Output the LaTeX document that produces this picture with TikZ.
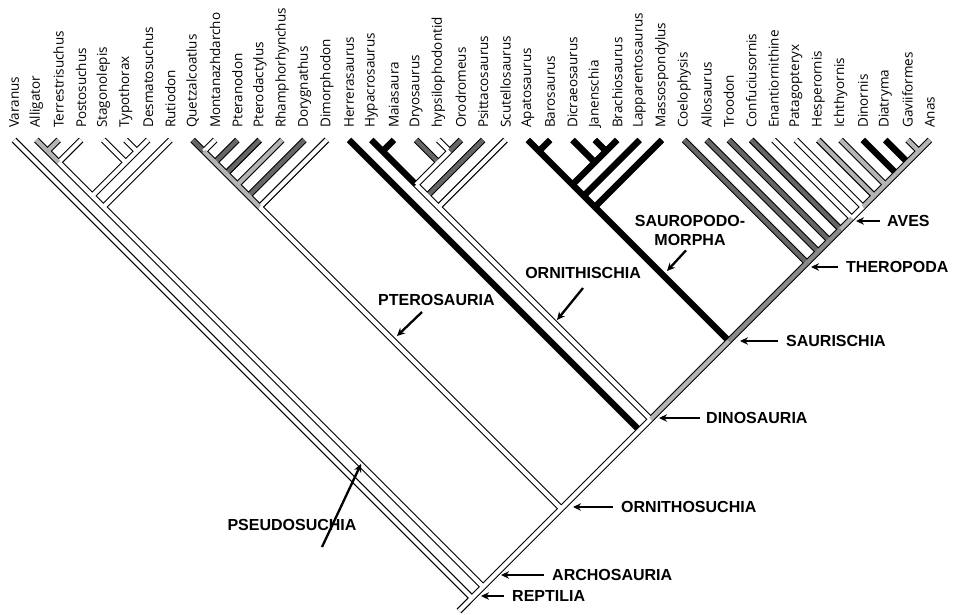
\documentclass[tikz,border=0pt]{standalone}
\usepackage{fontspec}
\setmainfont{Open Sans}
\newfontfamily\cladefont{Liberation Sans}
\usetikzlibrary{arrows.meta}
\definecolor{dg}{HTML}{666666}
\definecolor{mg}{HTML}{8A8A8A}
\definecolor{lg}{HTML}{B4B4B4}
\begin{document}
\begin{tikzpicture}[x=1pt,y=-1pt,
  outer/.style={line width=6.4pt, draw=black, line cap=butt},
  inner/.style={line width=4.2pt, draw=#1, line cap=butt},
  taxon/.style={rotate=90, anchor=west, inner sep=0pt, font=\fontsize{13.5}{15}\selectfont},
  clade/.style={inner sep=0pt, font=\cladefont\bfseries\fontsize{16}{19}\selectfont},
  pointer/.style={line width=2.3pt, -{Stealth[length=8pt,width=7.5pt]}}]
\useasboundingbox (0,0) rectangle (955,614);
\fill[white] (0,0) rectangle (955,614);

% ---- node coordinates of the cladogram
\foreach \i in {0,...,41} \coordinate (n\i-\i) at ({14+22.34*\i},140);
\foreach \a/\b in {0/41,1/41,1/2,1/3,1/6,1/7,4/6,5/6,8/41,8/9,8/10,8/11,8/12,8/13,8/14,
  15/41,16/41,16/17,16/20,18/20,19/20,16/21,16/22,23/41,23/24,23/27,25/27,26/27,23/28,23/29,
  30/41,31/41,32/41,33/41,34/41,35/41,36/41,37/41,38/41,39/41,40/41}
  \coordinate (n\a-\b) at ({14+11.17*(\a+\b)},{140+11.17*(\b-\a)});
\coordinate (nroot) at (459,611);

% ---- taxon labels
\foreach \i/\name in {0/Varanus,1/Alligator,2/Terrestrisuchus,3/Postosuchus,4/Stagonolepis,
  5/Typothorax,6/Desmatosuchus,7/Rutiodon,8/Quetzalcoatlus,9/Montanazhdarcho,10/Pteranodon,
  11/Pterodactylus,12/Rhamphorhynchus,13/Dorygnathus,14/Dimorphodon,15/Herrerasaurus,
  16/Hypacrosaurus,17/Maiasaura,18/Dryosaurus,19/hypsilophodontid,20/Orodromeus,
  21/Psittacosaurus,22/Scutellosaurus,23/Apatosaurus,24/Barosaurus,25/Dicraeosaurus,
  26/Janenschia,27/Brachiosaurus,28/Lapparentosaurus,29/Massospondylus,30/Coelophysis,
  31/Allosaurus,32/Troodon,33/Confuciusornis,34/Enantiornithine,35/Patagopteryx,
  36/Hesperornis,37/Ichthyornis,38/Dinornis,39/Diatryma,40/Gaviiformes,41/Anas}
  \node[taxon] (t\i) at ({14+22.34*\i},128) {\name};

% ---- branch lists
\newcommand\tipbranches{%
\br{white}{0-0}{0-41}\br{lg}{1-1}{1-2}\br{lg}{2-2}{1-2}\br{white}{3-3}{1-3}
\br{white}{4-4}{4-6}\br{white}{5-5}{5-6}\br{white}{6-6}{5-6}\br{white}{7-7}{1-7}
\br{dg}{8-8}{8-9}\br{white}{9-9}{8-9}\br{dg}{10-10}{8-10}\br{dg}{11-11}{8-11}
\br{lg}{12-12}{8-12}\br{dg}{13-13}{8-13}\br{white}{14-14}{8-14}
\br{black}{15-15}{15-41}\br{black}{16-16}{16-17}\br{black}{17-17}{16-17}
\br{dg}{18-18}{18-20}\br{white}{19-19}{19-20}\br{dg}{20-20}{19-20}
\br{dg}{21-21}{16-21}\br{white}{22-22}{16-22}
\br{black}{23-23}{23-24}\br{black}{24-24}{23-24}\br{black}{25-25}{25-27}
\br{black}{26-26}{26-27}\br{black}{27-27}{26-27}\br{black}{28-28}{23-28}\br{black}{29-29}{23-29}
\br{dg}{30-30}{30-41}\br{dg}{31-31}{31-41}\br{dg}{32-32}{32-41}\br{dg}{33-33}{33-41}
\br{white}{34-34}{34-41}\br{white}{35-35}{35-41}\br{lg}{36-36}{36-41}\br{lg}{37-37}{37-41}
\br{black}{38-38}{38-41}\br{black}{39-39}{39-41}\br{lg}{40-40}{40-41}\br{lg}{41-41}{40-41}}
\newcommand\innerbranches{%
\br{lg}{1-2}{1-3}\br{white}{1-3}{1-6}\br{white}{5-6}{4-6}\br{white}{4-6}{1-6}\br{white}{1-6}{1-7}
\br{lg}{8-9}{8-10}\br{lg}{8-10}{8-11}\br{lg}{8-11}{8-12}\br{lg}{8-12}{8-13}\br{lg}{8-13}{8-14}
\br{black}{16-17}{16-20}\br{white}{19-20}{18-20}\br{white}{18-20}{16-20}
\br{white}{16-20}{16-21}\br{white}{16-21}{16-22}
\br{black}{23-24}{23-27}\br{black}{26-27}{25-27}\br{black}{25-27}{23-27}
\br{black}{23-27}{23-28}\br{black}{23-28}{23-29}
\br{lg}{40-41}{39-41}\br{lg}{39-41}{38-41}\br{lg}{38-41}{37-41}\br{lg}{37-41}{36-41}
\br{lg}{36-41}{35-41}\br{white}{35-41}{34-41}\br{lg}{34-41}{33-41}
\br{mg}{33-41}{32-41}\br{mg}{32-41}{31-41}\br{mg}{31-41}{30-41}}
\newcommand\stembranches{%
\br{white}{1-7}{1-41}\br{white}{8-14}{8-41}\br{white}{16-22}{16-41}\br{black}{23-29}{23-41}
\br{mg}{30-41}{23-41}\br{lg}{23-41}{16-41}\br{white}{16-41}{15-41}\br{white}{15-41}{8-41}
\br{white}{8-41}{1-41}\br{white}{1-41}{0-41}\br{white}{0-41}{root}}

% outlines
\def\br#1#2#3{\draw[outer] (n#2) -- (n#3);}
\tipbranches\innerbranches\stembranches
% fills
\def\br#1#2#3{\draw[inner=#1] (n#2) -- (n#3);}
\tipbranches\innerbranches\stembranches

% ---- clade labels and pointers
\node[clade, anchor=west] (aves) at (887,221) {AVES};
\node[clade, anchor=west] (thero) at (846,267) {THEROPODA};
\node[clade, anchor=west] (sauri) at (786,341) {SAURISCHIA};
\node[clade, anchor=west] (dino) at (706,418) {DINOSAURIA};
\node[clade, anchor=west] (ornsu) at (621,507) {ORNITHOSUCHIA};
\node[clade, anchor=west] (archo) at (552,575) {ARCHOSAURIA};
\node[clade, anchor=west] (rept) at (512,596) {REPTILIA};
\node[clade] (pseudo) at (292,525) {PSEUDOSUCHIA};
\node[clade, anchor=west] (ptero) at (378,300) {PTEROSAURIA};
\node[clade, anchor=east] (ornis) at (641,273) {ORNITHISCHIA};
\node[clade, align=center] (sauro) at (690,230) {SAUROPODO-\\MORPHA};

\coordinate (pAves) at (856,221);
\coordinate (pThero) at (811,267);
\coordinate (pSauri) at (740,341);
\coordinate (pDino) at (659,418);
\coordinate (pOrnsu) at (573,507);
\coordinate (pArcho) at (501,575);
\coordinate (pRept) at (481,596);
\coordinate (pPseudo) at (361,464);
\coordinate (pPtero) at (397,336);
\coordinate (pOrnis) at (557,320);
\coordinate (pSauro) at (667,271);

\draw[pointer] ([xshift=-7pt]aves.west) -- (pAves);
\draw[pointer] ([xshift=-8pt]thero.west) -- (pThero);
\draw[pointer] ([xshift=-8pt]sauri.west) -- (pSauri);
\draw[pointer] ([xshift=-6pt]dino.west) -- (pDino);
\draw[pointer] ([xshift=-8pt]ornsu.west) -- (pOrnsu);
\draw[pointer] ([xshift=-8pt]archo.west) -- (pArcho);
\draw[pointer] ([xshift=-8pt]rept.west) -- (pRept);
\draw[pointer] ([xshift=30pt,yshift=-22pt]pseudo.center) -- (pPseudo);
\draw[pointer] ([xshift=44pt,yshift=-12pt]ptero.west) -- (pPtero);
\draw[pointer] ([xshift=-58pt,yshift=-15pt]ornis.east) -- (pOrnis);
\draw[pointer] ([xshift=-4pt,yshift=-5pt]sauro.south) -- (pSauro);
\end{tikzpicture}
\end{document}
